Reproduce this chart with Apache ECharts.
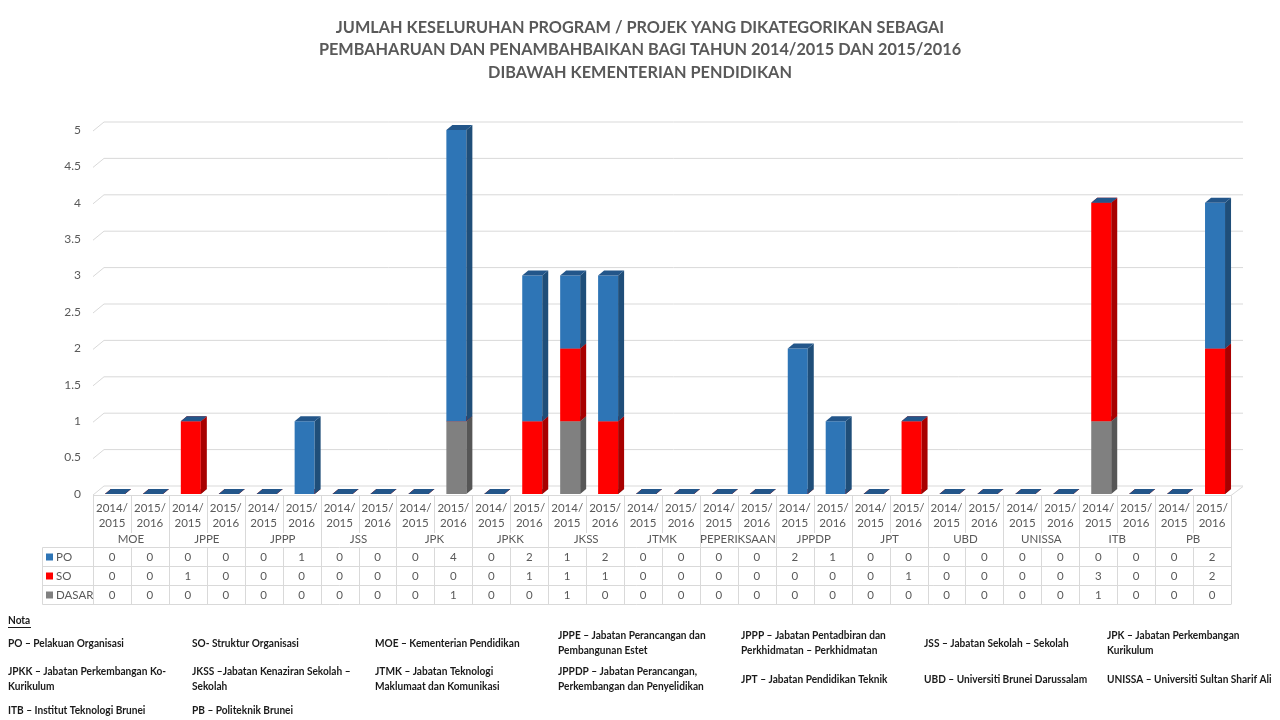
<!DOCTYPE html>
<html>
<head>
<meta charset="utf-8">
<script src="https://cdn.jsdelivr.net/npm/echarts@6/dist/echarts.min.js"></script>
<style>
html,body{margin:0;padding:0;background:#fff;}
#c{width:1280px;height:720px;}
</style>
</head>
<body>
<div id="c"></div>
<script>
const groups = ['MOE','JPPE','JPPP','JSS','JPK','JPKK','JKSS','JTMK','PEPERIKSAAN','JPPDP','JPT','UBD','UNISSA','ITB','PB'];
const years = ['2014/2015','2015/2016'];
const PO    = [0,0, 0,0, 0,1, 0,0, 0,4, 0,2, 1,2, 0,0, 0,0, 2,1, 0,0, 0,0, 0,0, 0,0, 0,2];
const SO    = [0,0, 1,0, 0,0, 0,0, 0,0, 0,1, 1,1, 0,0, 0,0, 0,0, 0,1, 0,0, 0,0, 3,0, 0,2];
const DASAR = [0,0, 0,0, 0,0, 0,0, 0,1, 0,0, 1,0, 0,0, 0,0, 0,0, 0,0, 0,0, 0,0, 1,0, 0,0];
const yTicks = [0,0.5,1,1.5,2,2.5,3,3.5,4,4.5,5];
const titleLines = [
  'JUMLAH KESELURUHAN PROGRAM / PROJEK YANG DIKATEGORIKAN SEBAGAI',
  'PEMBAHARUAN DAN PENAMBAHBAIKAN BAGI TAHUN 2014/2015 DAN 2015/2016',
  'DIBAWAH KEMENTERIAN PENDIDIKAN'
];
const notes = [
  ['PO – Pelakuan Organisasi', 'SO- Struktur Organisasi', 'MOE – Kementerian Pendidikan', 'JPPE – Jabatan Perancangan dan\nPembangunan Estet', 'JPPP – Jabatan Pentadbiran dan\nPerkhidmatan – Perkhidmatan', 'JSS – Jabatan Sekolah – Sekolah', 'JPK – Jabatan Perkembangan\nKurikulum'],
  ['JPKK – Jabatan Perkembangan Ko-\nKurikulum', 'JKSS –Jabatan Kenaziran Sekolah –\nSekolah', 'JTMK – Jabatan Teknologi\nMaklumaat dan Komunikasi', 'JPPDP – Jabatan Perancangan,\nPerkembangan dan Penyelidikan', 'JPT – Jabatan Pendidikan Teknik', 'UBD – Universiti Brunei Darussalam', 'UNISSA – Universiti Sultan Sharif Ali'],
  ['ITB – Institut Teknologi Brunei', 'PB – Politeknik Brunei']
];

const seriesDefs = [
  {name:'DASAR', data:DASAR, front:'#808080', side:'#565656', top:'#6a6a6a'},
  {name:'SO', data:SO, front:'#FF0000', side:'#A80000', top:'#C80000'},
  {name:'PO', data:PO, front:'#2E75B6', side:'#1F4E79', top:'#23568A'}
];

const xCats = [];
groups.forEach(g => years.forEach(y => xCats.push(y + '|' + g)));

const FONT = 'Lato, "Open Sans", sans-serif';
const GRAY = '#595959';
const DX = 6, DY = 5;

function barSeries(idx) {
  const def = seriesDefs[idx];
  return {
    type: 'custom',
    name: def.name,
    z: 3,
    data: def.data.map((v, i) => [i, v]),
    renderItem: function (params, api) {
      const i = api.value(0);
      const v = api.value(1);
      let base = 0;
      for (let k = 0; k < idx; k++) base += seriesDefs[k].data[i];
      const p0 = api.coord([i, base]);
      const p1 = api.coord([i, base + v]);
      const c = p0[0];
      const xl = c - 7, xr = c + 13;
      const y0 = p0[1], y1 = p1[1];
      const children = [];
      if (v > 0) {
        children.push({type:'rect', shape:{x:xl, y:y1, width:xr-xl, height:y0-y1}, style:{fill:def.front}});
        children.push({type:'polygon', shape:{points:[[xr,y1],[xr+DX,y1-DY],[xr+DX,y0-DY],[xr,y0]]}, style:{fill:def.side}});
      }
      children.push({type:'polygon', shape:{points:[[xl,y1],[xl+DX,y1-DY],[xr+DX,y1-DY],[xr,y1]]}, style:{fill:def.top}});
      return {type:'group', children:children};
    }
  };
}

const chart = echarts.init(document.getElementById('c'), null, {renderer:'canvas'});
chart.setOption({
  animation: false,
  backgroundColor: '#fff',
  title: {
    text: titleLines.join('\n'),
    left: 'center',
    top: 11,
    textStyle: {fontFamily: FONT, fontWeight: 'bold', fontSize: 16.3, color: GRAY, lineHeight: 22.5}
  },
  grid: {left: 93, right: 49, top: 130, bottom: 226, containLabel: false},
  xAxis: [
    {
      type: 'category', data: xCats, position: 'bottom',
      axisLine: {show: false}, axisTick: {show: false},
      axisLabel: {
        interval: 0, margin: 7, color: GRAY, fontFamily: FONT, fontSize: 11.5, lineHeight: 15,
        formatter: v => v.split('|')[0].replace('/', '/\n')
      }
    },
    {
      type: 'category', data: groups, position: 'bottom', offset: 37,
      axisLine: {show: false}, axisTick: {show: false},
      axisLabel: {interval: 0, margin: 2, color: GRAY, fontFamily: FONT, fontSize: 11.5}
    }
  ],
  yAxis: {
    type: 'value', min: 0, max: 5, interval: 0.5,
    axisLine: {show: false}, axisTick: {show: false}, splitLine: {show: false},
    axisLabel: {margin: 12, color: GRAY, fontFamily: FONT, fontSize: 12}
  },
  series: [
    {
      type: 'custom', z: 1, silent: true,
      data: yTicks.map(v => [0, v]),
      renderItem: function (params, api) {
        const y = api.coord([0, api.value(1)])[1];
        const cs = params.coordSys;
        return {type:'polyline', shape:{points:[[cs.x, y + 1],[cs.x + 11, y - 8],[cs.x + cs.width + 12, y - 8]]},
          style:{stroke:'#D9D9D9', lineWidth:1, fill:null}};
      }
    },
    barSeries(0), barSeries(1), barSeries(2)
  ]
});

// Data table and notes
(function () {
  const xa = chart.convertToPixel({xAxisIndex: 0}, 0);
  const xb = chart.convertToPixel({xAxisIndex: 0}, 1);
  const colW = xb - xa;
  const left = xa - colW / 2;
  const right = left + colW * xCats.length;
  const LC = '#D9D9D9';
  const els = [];
  const line = (x1, y1, x2, y2) => els.push({type:'line', shape:{x1, y1, x2, y2}, style:{stroke:LC, lineWidth:1}, silent:true});
  const topY = 495.5, yearBot = 533, rowTops = [547.5, 566.5, 585.5, 604.5];
  line(left, topY, right, topY);
  line(right, topY, right + 12, topY - 9);
  for (let k = 0; k <= xCats.length; k++) {
    const x = Math.round(left + k * colW) + 0.5;
    if (k % 2 === 0) line(x, topY, x, rowTops[3]);
    else { line(x, topY, x, yearBot); line(x, rowTops[0], x, rowTops[3]); }
  }
  const hdrX = 42.5;
  line(hdrX, rowTops[0], hdrX, rowTops[3]);
  rowTops.forEach(y => line(hdrX, y, right, y));
  const rows = [seriesDefs[2], seriesDefs[1], seriesDefs[0]];
  rows.forEach((def, r) => {
    const cy = (rowTops[r] + rowTops[r + 1]) / 2;
    els.push({type:'rect', shape:{x:46, y:cy - 3.5, width:7, height:7}, style:{fill:def.front}, silent:true});
    els.push({type:'text', x:56, y:cy, style:{text:def.name, fill:GRAY, font:'11.5px ' + FONT, textVerticalAlign:'middle'}, silent:true});
    def.data.forEach((v, i) => {
      const cx = chart.convertToPixel({xAxisIndex: 0}, i);
      els.push({type:'text', x:cx, y:cy, style:{text:String(v), fill:GRAY, font:'11.5px ' + FONT, textAlign:'center', textVerticalAlign:'middle'}, silent:true});
    });
  });
  const NF = 'bold 11px ' + FONT;
  const SX = 0.92;
  els.push({type:'text', x:8, y:620, scaleX:SX, style:{text:'Nota', fill:'#1a1a1a', font:NF, textVerticalAlign:'middle'}, silent:true});
  els.push({type:'line', shape:{x1:8, y1:627.5, x2:31, y2:627.5}, style:{stroke:'#1a1a1a', lineWidth:1}, silent:true});
  const colXs = [8, 192, 375, 558, 741, 924, 1107];
  const rowYs = [643, 679, 710];
  notes.forEach((row, r) => row.forEach((t, c) => {
    els.push({type:'text', x:colXs[c], y:rowYs[r], scaleX:SX, style:{text:t, fill:'#1a1a1a', font:NF, lineHeight:15, textVerticalAlign:'middle'}, silent:true});
  }));
  chart.setOption({graphic: els});
})();
</script>
</body>
</html>
